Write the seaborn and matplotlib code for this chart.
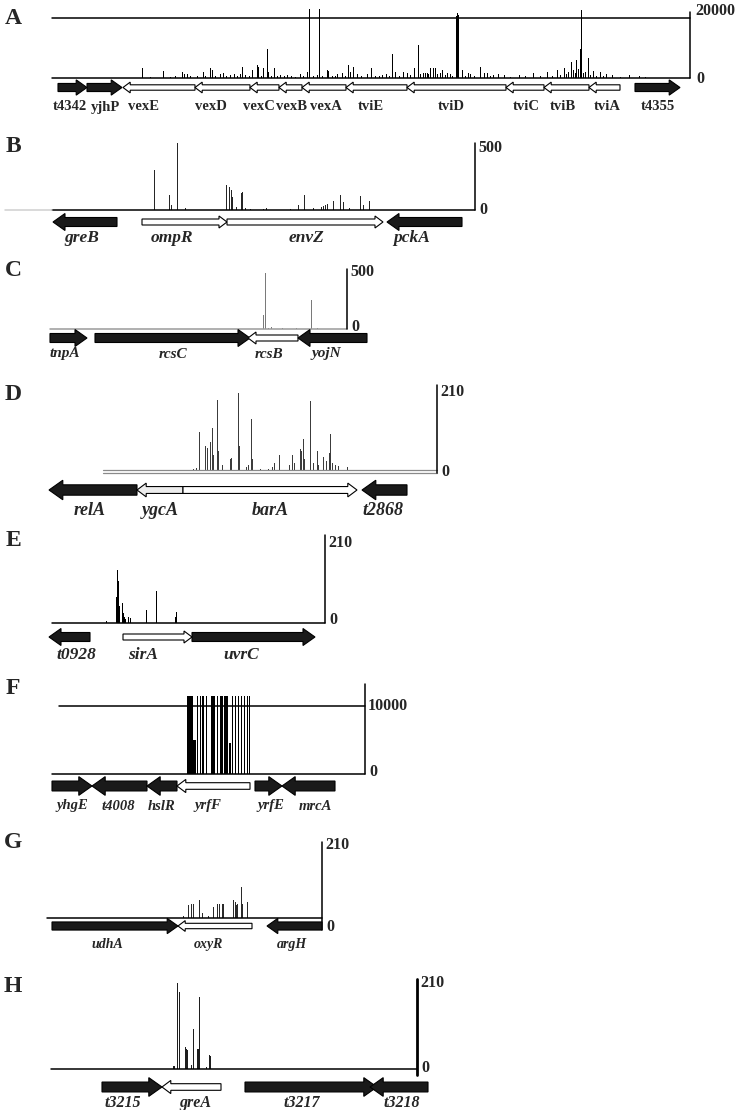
import numpy as np
import pandas as pd
import matplotlib
matplotlib.use("Agg")
import matplotlib.pyplot as plt
from matplotlib.patches import Polygon
import seaborn as sns

# ---------------- data ----------------
# map positions share one scale for every panel, reads = read counts per position

# A  vex / tvi locus
a_genes = ['t4342', 'yjhP', 'vexE', 'vexD', 'vexC', 'vexB', 'vexA', 'tviE', 'tviD', 'tviC', 'tviB', 'tviA', 't4355']
a_start = [58, 87, 123, 195, 250, 279, 302, 346, 407, 506, 544, 589, 635]
a_end = [87, 122, 195, 250, 279, 302, 346, 407, 506, 544, 589, 620, 680]
a_strand = [1, 1, -1, -1, -1, -1, -1, -1, -1, -1, -1, -1, 1]
a_fill = ['k', 'k', 'w', 'w', 'w', 'w', 'w', 'w', 'w', 'w', 'w', 'w', 'k']
a_label_x = [70, 105, 144, 211, 259, 291, 326, 371, 451, 526, 563, 607, 658]
a_pos = [142, 150, 163, 170, 175, 182, 184, 187, 190, 197, 203, 205, 210, 212, 215, 220, 223, 226,
         230, 234, 237, 240, 242, 245, 249, 252, 257, 258, 261, 263, 267, 268, 271, 274, 277, 280,
         284, 287, 291, 295, 300, 303, 307, 309, 313, 317, 319, 322, 327, 328, 332, 335, 337, 342,
         345, 348, 350, 353, 357, 361, 367, 371, 375, 379, 382, 386, 389, 392, 395, 399, 403, 407,
         410, 414, 418, 420, 423, 425, 427, 428, 430, 433, 435, 437, 440, 442, 445, 447, 450, 452,
         456, 457, 458, 462, 465, 468, 470, 474, 480, 484, 487, 490, 493, 498, 504, 510, 519, 525,
         533, 540, 547, 552, 557, 560, 564, 566, 568, 571, 573, 575, 576, 578, 580, 581, 583, 585,
         588, 590, 593, 596, 600, 603, 606, 612, 620, 629, 639, 645]
a_reads = [3300, 300, 2200, 400, 500, 1900, 1200, 1300, 600, 500, 1900, 700, 3300, 2500, 800, 1200, 1500, 600,
           900, 1200, 500, 1300, 3500, 900, 700, 2500, 4200, 3700, 800, 3300, 9500, 2000, 600, 3300, 700, 900,
           500, 900, 600, 400, 1200, 700, 2000, 23000, 500, 900, 23000, 800, 2500, 2300, 800, 600, 1300, 1500,
           700, 4400, 2000, 3500, 1200, 600, 1200, 3300, 500, 700, 900, 1300, 600, 7900, 2000, 800, 2000, 1500,
           900, 3300, 11000, 1200, 1500, 1500, 1500, 1400, 3300, 3300, 3300, 1300, 1500, 2500, 1100, 1500, 1300, 800,
           20500, 21600, 21000, 2500, 600, 1500, 1200, 700, 3500, 1500, 1500, 500, 900, 1200, 1000, 400, 900, 500,
           1600, 600, 2000, 800, 2500, 900, 3300, 1200, 2000, 5300, 2500, 1500, 5900, 3000, 9500, 22600, 1800, 2000,
           6500, 900, 2300, 700, 2000, 600, 1300, 1100, 400, 900, 600, 300]

# B  ompR / envZ
b_genes = ['greB', 'ompR', 'envZ', 'pckA']
b_start = [53, 142, 227, 387]
b_end = [117, 227, 383, 462]
b_strand = [-1, 1, 1, -1]
b_fill = ['k', 'w', 'w', 'k']
b_label_x = [82, 172, 306, 412]
b_pos = [154, 169, 171, 177, 185, 226, 229, 231, 232, 236, 241, 242, 245, 250, 263, 266, 290, 298,
         304, 313, 321, 323, 325, 327, 333, 340, 343, 349, 360, 363, 369]
b_reads = [300, 110, 40, 500, 12, 185, 170, 150, 100, 20, 130, 135, 15, 10, 10, 15, 8, 40,
           110, 15, 25, 30, 40, 45, 70, 110, 60, 15, 105, 40, 70]

# C  rcsC / rcsB
c_genes = ['tnpA', 'rcsC', 'rcsB', 'yojN']
c_start = [50, 95, 248, 298]
c_end = [87, 250, 298, 367]
c_strand = [1, 1, -1, -1]
c_fill = ['k', 'k', 'w', 'k']
c_label_x = [65, 173, 269, 326]
c_pos = [263, 265, 268, 271, 282, 296, 311, 317]
c_reads = [115, 467, 5, 15, 8, 5, 242, 10]

# D  ygcA / barA
d_genes = ['relA', 'ygcA', 'barA', 't2868']
d_start = [49, 137, 183, 362]
d_end = [137, 183, 357, 407]
d_strand = [-1, -1, 1, -1]
d_fill = ['k', '#ececec', 'w', 'k']
d_label_x = [90, 160, 270, 383]
d_pos = [193, 196, 199, 205, 207, 210, 212, 213, 217, 218, 222, 230, 231, 238, 239, 246, 248, 251,
         252, 260, 268, 272, 274, 279, 289, 292, 294, 300, 301, 303, 304, 310, 313, 317, 318, 323,
         326, 329, 330, 332, 335, 338, 347]
d_reads = [5, 7, 96, 62, 55, 72, 106, 40, 173, 50, 15, 30, 32, 190, 60, 10, 15, 126,
           30, 5, 5, 10, 20, 40, 15, 40, 20, 54, 50, 77, 30, 172, 20, 49, 15, 35,
           25, 45, 91, 20, 15, 12, 10]

# E  sirA / uvrC
e_genes = ['t0928', 'sirA', 'uvrC']
e_start = [49, 123, 192]
e_end = [90, 192, 315]
e_strand = [-1, 1, 1]
e_fill = ['k', 'w', 'k']
e_label_x = [76, 143, 241]
e_pos = [106, 116, 117, 118, 119, 122, 123, 124, 125, 128, 130, 146, 156, 175, 176]
e_reads = [5, 62, 126, 100, 40, 48, 25, 15, 10, 15, 12, 31, 76, 15, 26]

# F  yrfF (reads grouped in blocks: left edge, right edge, reads)
f_genes = ['yhgE', 't4008', 'hslR', 'yrfF', 'yrfE', 'mrcA']
f_start = [52, 92, 147, 177, 255, 282]
f_end = [92, 147, 177, 250, 282, 335]
f_strand = [1, -1, -1, -1, 1, -1]
f_fill = ['k', 'k', 'k', 'w', 'k', 'k']
f_label_x = [72, 118, 162, 208, 271, 315]
f_left = [186.7, 193.3, 197.3, 200.0, 202.3, 205.7, 210.7, 216.7, 220.0, 224.3, 229.3, 231.7, 235.0, 238.3, 241.0, 244.0, 246.7, 249.0]
f_right = [193.3, 196.0, 198.3, 201.0, 204.0, 206.7, 215.3, 218.3, 223.3, 228.3, 230.7, 233.3, 236.0, 239.3, 242.0, 245.0, 247.7, 250.0]
f_reads = [11400, 5000, 11400, 11400, 11400, 11400, 11400, 11400, 11400, 11400, 4500, 11400, 11400, 11400, 11400, 11400, 11400, 11400]

# G  oxyR
g_genes = ['udhA', 'oxyR', 'argH']
g_start = [52, 178, 267]
g_end = [178, 252, 322]
g_strand = [1, -1, -1]
g_fill = ['k', 'w', 'k']
g_label_x = [107, 208, 292]
g_pos = [183, 188, 191, 193, 199, 202, 208, 213, 217, 219, 222, 223, 233, 235, 236, 237, 241, 242, 247]
g_reads = [5, 35, 40, 40, 50, 15, 5, 30, 40, 38, 40, 38, 50, 45, 35, 40, 86, 40, 45]

# H  greA
h_genes = ['t3215', 'greA', 't3217', 't3218']
h_start = [102, 162, 245, 370]
h_end = [162, 221, 377, 428]
h_strand = [1, -1, 1, -1]
h_fill = ['k', 'w', 'k', 'k']
h_label_x = [123, 195, 302, 402]
h_pos = [173, 174, 177, 179, 185, 186, 187, 191, 193, 197, 198, 199, 206, 209, 210]
h_reads = [7, 8, 200, 180, 51, 46, 44, 10, 93, 46, 46, 168, 5, 33, 30]

# ---------------- drawing ----------------
sns.set_theme(style="white")
plt.rcParams['font.family'] = ['Liberation Serif', 'DejaVu Serif']

W, H = 750, 1110
fig = plt.figure(figsize=(W / 100, H / 100), dpi=100)


def add_ax(top_px, bottom_px):
    ax = fig.add_axes([0, 1 - bottom_px / H, 1, (bottom_px - top_px) / H])
    ax.set_facecolor('none')
    ax.axis('off')
    return ax


def arrow(gx, s, e, strand, fill, sc):
    if fill == 'k':
        bh, hh, hl = 0.45 * sc, 0.85 * sc, 12 * sc
    else:
        bh, hh, hl = 0.3 * sc, 0.6 * sc, 8 * sc
    if strand > 0:
        n = max(e - hl, s)
        pts = [(s, -bh), (n, -bh), (n, -hh), (e, 0), (n, hh), (n, bh), (s, bh)]
    else:
        n = min(s + hl, e)
        pts = [(e, -bh), (n, -bh), (n, -hh), (s, 0), (n, hh), (n, bh), (e, bh)]
    gx.add_patch(Polygon(pts, closed=True, facecolor=fill, edgecolor='black',
                         lw=0.8, joinstyle='miter', clip_on=False))


def panel(letter, lay, genes, start, end, strand, fill, label_x):
    base, ref_px, ref_val = lay['base'], lay['ref_px'], lay['ref_val']
    ax = add_ax(ref_px, base)
    v = lambda px: (base - px) / (base - ref_px) * ref_val

    # read counts
    if 'bins' in lay:
        sns.histplot(x=lay['x'], weights=lay['w'], bins=lay['bins'], color=lay['color'],
                     alpha=1, linewidth=0, ax=ax)
    else:
        df = pd.DataFrame({'pos': lay['x'], 'reads': lay['w']})
        sns.histplot(data=df, x='pos', weights='reads', discrete=True, color=lay['color'],
                     alpha=1, linewidth=0, ax=ax)
    for p in ax.patches:
        p.set_clip_on(False)
    ax.set_xlim(0, W)
    ax.set_ylim(0, ref_val)
    ax.axis('off')

    x0, xr = lay['x0'], lay['xr']
    lc = lay.get('base_color', 'black')
    if lay.get('double'):
        ax.plot([x0, xr], [v(base - 1.2), v(base - 1.2)], color='#8a8a8a', lw=0.9, clip_on=False)
        ax.plot([x0, xr], [v(base + 1.8), v(base + 1.8)], color='#8a8a8a', lw=0.9, clip_on=False)
    else:
        ax.plot([x0, xr], [0, 0], color=lc, lw=1.1, clip_on=False)
    if 'lead' in lay:
        ax.plot([lay['lead'], x0], [0, 0], color='#cfcfcf', lw=1.1, clip_on=False)
    if 'ref_line' in lay:
        ax.plot([lay['ref_line'], xr], [ref_val, ref_val], color='black', lw=1.1, clip_on=False)
    ax.plot([xr, xr], [v(lay['ax_bot']), v(lay['ax_top'])], color='black',
            lw=lay.get('ax_lw', 1.1), clip_on=False)
    nfs = lay.get('num_fs', 11.5)
    ax.text(xr + lay.get('num_dx', 3), v(lay['top_lab']), lay['top_txt'], ha='left', va='center',
            fontsize=nfs, fontweight='bold', clip_on=False)
    ax.text(xr + lay.get('num_dx', 3) + 1, v(lay['zero_lab']), '0', ha='left', va='center',
            fontsize=nfs, fontweight='bold', clip_on=False)

    # gene track
    gy = lay['gene_y']
    gx = add_ax(gy - 10, gy + 10)
    gx.set_xlim(0, W)
    gx.set_ylim(-1, 1)
    for s, e, d, f in zip(start, end, strand, fill):
        arrow(gx, s, e, d, f, lay['sc'])
    ly = (gy - lay['label_y']) / 10
    for name, lx in zip(genes, label_x):
        gx.text(lx, ly, name, ha='center', va='center', fontsize=lay['gene_fs'],
                fontweight='bold', style=lay['style'], clip_on=False)

    fig.text(13 / W, 1 - lay['letter_y'] / H, letter, ha='center', va='center',
             fontsize=17, fontweight='bold')


f_edges = sorted(set(f_left + f_right))
f_mid = [(l + r) / 2 for l, r in zip(f_left, f_right)]

panel('A', dict(base=78, ref_px=17.7, ref_val=20000, x0=52, xr=690, ref_line=52,
                ax_top=12, ax_bot=78, top_lab=11, zero_lab=79, top_txt='20000', num_dx=5,
                x=a_pos, w=a_reads, color='black', gene_y=87.5, label_y=107, gene_fs=10.5,
                style='normal', sc=0.9, letter_y=18),
      a_genes, a_start, a_end, a_strand, a_fill, a_label_x)
panel('B', dict(base=210, ref_px=143, ref_val=500, x0=52, xr=475, lead=5,
                ax_top=143, ax_bot=210, top_lab=148, zero_lab=210, top_txt='500',
                x=b_pos, w=b_reads, color='#262626', gene_y=222, label_y=238, gene_fs=12.5,
                style='italic', sc=1.0, letter_y=147),
      b_genes, b_start, b_end, b_strand, b_fill, b_label_x)
panel('C', dict(base=329, ref_px=269, ref_val=500, x0=50, xr=347, base_color='#9a9a9a',
                ax_top=269, ax_bot=329, top_lab=272, zero_lab=327, top_txt='500',
                x=c_pos, w=c_reads, color='#7a7a7a', gene_y=338, label_y=354, gene_fs=11,
                style='italic', sc=1.0, letter_y=270),
      c_genes, c_start, c_end, c_strand, c_fill, c_label_x)
panel('D', dict(base=471, ref_px=385, ref_val=210, x0=103, xr=437, double=True,
                ax_top=385, ax_bot=473, top_lab=392, zero_lab=472, top_txt='210',
                x=d_pos, w=d_reads, color='#3c3c3c', gene_y=490, label_y=510, gene_fs=13,
                style='italic', sc=1.15, letter_y=395),
      d_genes, d_start, d_end, d_strand, d_fill, d_label_x)
panel('E', dict(base=623, ref_px=535, ref_val=210, x0=52, xr=325,
                ax_top=535, ax_bot=623, top_lab=543, zero_lab=620, top_txt='210',
                x=e_pos, w=e_reads, color='black', gene_y=637, label_y=655, gene_fs=12.5,
                style='italic', sc=1.0, letter_y=540),
      e_genes, e_start, e_end, e_strand, e_fill, e_label_x)
panel('F', dict(base=774, ref_px=706, ref_val=10000, x0=52, xr=365, ref_line=59,
                ax_top=684, ax_bot=774, top_lab=706, zero_lab=772, top_txt='10000',
                x=f_mid, w=f_reads, bins=f_edges, color='black', gene_y=786, label_y=806,
                gene_fs=10.5, style='italic', sc=1.1, letter_y=689),
      f_genes, f_start, f_end, f_strand, f_fill, f_label_x)
panel('G', dict(base=918, ref_px=842, ref_val=210, x0=47, xr=322,
                ax_top=842, ax_bot=930, top_lab=845, zero_lab=927, top_txt='210',
                x=g_pos, w=g_reads, color='#2a2a2a', gene_y=926, label_y=944, gene_fs=10,
                style='italic', sc=0.9, letter_y=842),
      g_genes, g_start, g_end, g_strand, g_fill, g_label_x)
panel('H', dict(base=1069, ref_px=979, ref_val=210, x0=51, xr=417, ax_lw=2,
                ax_top=979, ax_bot=1075, top_lab=983, zero_lab=1068, top_txt='210',
                x=h_pos, w=h_reads, color='#1e1e1e', gene_y=1087, label_y=1103, gene_fs=11.5,
                style='italic', sc=1.1, letter_y=987),
      h_genes, h_start, h_end, h_strand, h_fill, h_label_x)

fig.savefig('out.png', dpi=100)
